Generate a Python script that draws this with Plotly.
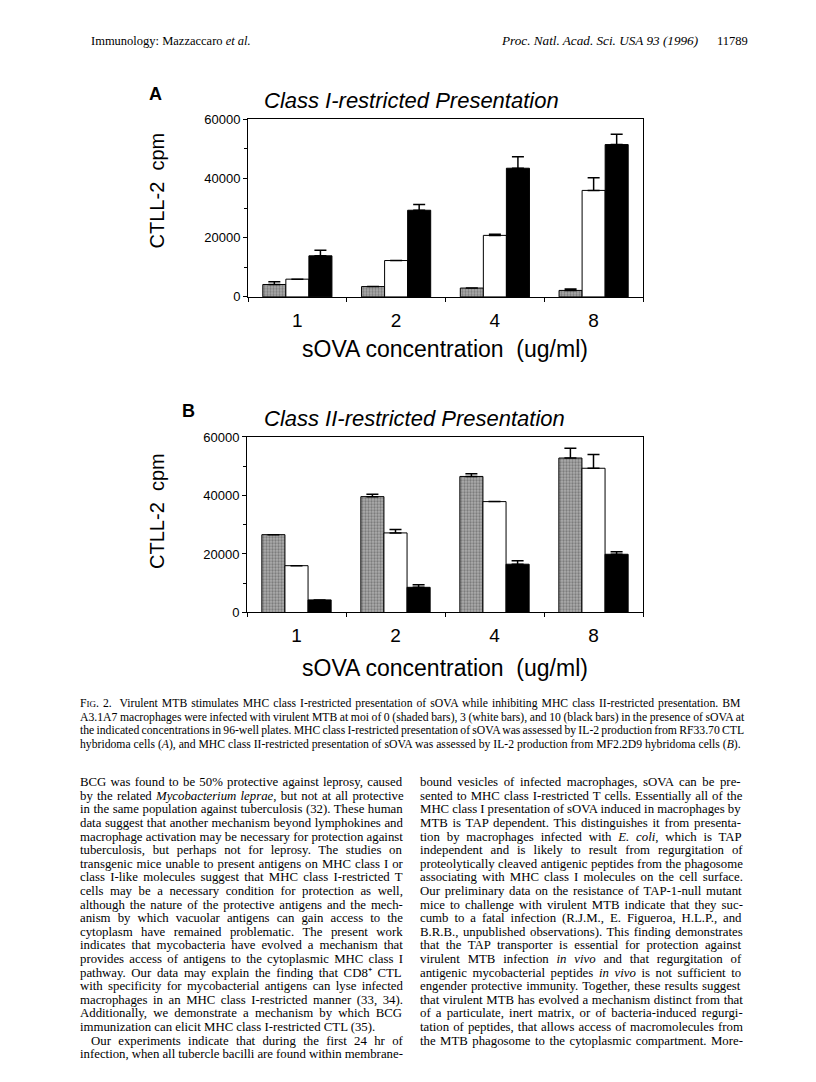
import re
import plotly.graph_objects as go

W, H = 816, 1082

# ---------------- data ----------------
concentrations = ["1", "2", "4", "8"]

a_moi0 = [4200, 3500, 3000, 2200]
a_moi0_err = [900, 0, 0, 500]
a_moi3 = [6000, 12300, 20800, 36000]
a_moi3_err = [0, 0, 400, 4300]
a_moi10 = [13900, 29300, 43500, 51500]
a_moi10_err = [1900, 1900, 3900, 3500]

b_moi0 = [26600, 39600, 46500, 52800]
b_moi0_err = [0, 800, 900, 3300]
b_moi3 = [16000, 27200, 37900, 49300]
b_moi3_err = [0, 1200, 0, 4700]
b_moi10 = [4300, 8600, 16500, 19900]
b_moi10_err = [0, 900, 1200, 900]

y_ticks = [0, 20000, 40000, 60000]
y_minor = [10000, 30000, 50000]

header_left = "Immunology: Mazzaccaro <i>et al.</i>"
header_mid = "<i>Proc. Natl. Acad. Sci. USA 93 (1996)</i>"
header_page = "11789"

caption_lines = [
    "F<span style='font-size:9px'>IG</span>. 2.  Virulent MTB stimulates MHC class I-restricted presentation of sOVA while inhibiting MHC class II-restricted presentation. BM",
    "A3.1A7 macrophages were infected with virulent MTB at moi of 0 (shaded bars), 3 (white bars), and 10 (black bars) in the presence of sOVA at",
    "the indicated concentrations in 96-well plates. MHC class I-restricted presentation of sOVA was assessed by IL-2 production from RF33.70 CTL",
    "hybridoma cells (<i>A</i>), and MHC class II-restricted presentation of sOVA was assessed by IL-2 production from MF2.2D9 hybridoma cells (<i>B</i>).",
]

left_col = [
    "BCG was found to be 50% protective against leprosy, caused",
    "by the related <i>Mycobacterium leprae</i>, but not at all protective",
    "in the same population against tuberculosis (32). These human",
    "data suggest that another mechanism beyond lymphokines and",
    "macrophage activation may be necessary for protection against",
    "tuberculosis, but perhaps not for leprosy. The studies on",
    "transgenic mice unable to present antigens on MHC class I or",
    "class I-like molecules suggest that MHC class I-restricted T",
    "cells may be a necessary condition for protection as well,",
    "although the nature of the protective antigens and the mech-",
    "anism by which vacuolar antigens can gain access to the",
    "cytoplasm have remained problematic. The present work",
    "indicates that mycobacteria have evolved a mechanism that",
    "provides access of antigens to the cytoplasmic MHC class I",
    "pathway. Our data may explain the finding that CD8\u207a CTL",
    "with specificity for mycobacterial antigens can lyse infected",
    "macrophages in an MHC class I-restricted manner (33, 34).",
    "Additionally, we demonstrate a mechanism by which BCG",
    "immunization can elicit MHC class I-restricted CTL (35).",
    "Our experiments indicate that during the first 24 hr of",
    "infection, when all tubercle bacilli are found within membrane-",
]
left_ragged = [18]      # paragraph-ending line (not justified)
left_indent = [19]      # indented first line of a paragraph

right_col = [
    "bound vesicles of infected macrophages, sOVA can be pre-",
    "sented to MHC class I-restricted T cells. Essentially all of the",
    "MHC class I presentation of sOVA induced in macrophages by",
    "MTB is TAP dependent. This distinguishes it from presenta-",
    "tion by macrophages infected with <i>E. coli</i>, which is TAP",
    "independent and is likely to result from regurgitation of",
    "proteolytically cleaved antigenic peptides from the phagosome",
    "associating with MHC class I molecules on the cell surface.",
    "Our preliminary data on the resistance of TAP-1-null mutant",
    "mice to challenge with virulent MTB indicate that they suc-",
    "cumb to a fatal infection (R.J.M., E. Figueroa, H.L.P., and",
    "B.R.B., unpublished observations). This finding demonstrates",
    "that the TAP transporter is essential for protection against",
    "virulent MTB infection <i>in vivo</i> and that regurgitation of",
    "antigenic mycobacterial peptides <i>in vivo</i> is not sufficient to",
    "engender protective immunity. Together, these results suggest",
    "that virulent MTB has evolved a mechanism distinct from that",
    "of a particulate, inert matrix, or of bacteria-induced regurgi-",
    "tation of peptides, that allows access of macromolecules from",
    "the MTB phagosome to the cytoplasmic compartment. More-",
]

# ---------------- helpers ----------------
SANS = "Liberation Sans, Arial, Helvetica, sans-serif"
SERIF = "Liberation Serif, Times New Roman, serif"

# Times New Roman advance widths (per 1000 em), used to justify text lines
TNR = {' ': 250, 'a': 444, 'b': 500, 'c': 444, 'd': 500, 'e': 444, 'f': 333, 'g': 500, 'h': 500,
       'i': 278, 'j': 278, 'k': 500, 'l': 278, 'm': 778, 'n': 500, 'o': 500, 'p': 500, 'q': 500,
       'r': 333, 's': 389, 't': 278, 'u': 500, 'v': 500, 'w': 722, 'x': 500, 'y': 500, 'z': 444,
       'A': 722, 'B': 667, 'C': 667, 'D': 722, 'E': 611, 'F': 556, 'G': 722, 'H': 722, 'I': 333,
       'J': 389, 'K': 722, 'L': 611, 'M': 889, 'N': 722, 'O': 722, 'P': 556, 'Q': 722, 'R': 667,
       'S': 556, 'T': 611, 'U': 722, 'V': 722, 'W': 944, 'X': 722, 'Y': 722, 'Z': 611,
       '.': 250, ',': 250, '-': 333, '(': 333, ')': 333, '%': 833, ':': 278, ';': 278, '+': 564,
       '/': 278, '\u207a': 350}


def natural_width(text, size):
    plain = re.sub(r"<[^>]+>", "", text)
    return sum(TNR.get(c, 500) for c in plain) * size / 1000.0, plain.count(" ")


def justify(text, size, target):
    w, n = natural_width(text, size)
    if n == 0:
        return text
    ws = (target - w) / n
    return "<span style='word-spacing:%.2fpx'>%s</span>" % (ws, text)


def px(x):
    return x / W


def py(y):
    return 1 - y / H


fig = go.Figure()

shaded = dict(color="#a0a0a0", line=dict(color="black", width=1),
              pattern=dict(shape=".", fgcolor="#4a4a4a", bgcolor="#acacac", size=3, solidity=0.45))
white = dict(color="white", line=dict(color="black", width=1))
black = dict(color="black", line=dict(color="black", width=1))


def err(arr):
    return dict(type="data", symmetric=False, array=arr, arrayminus=[0] * len(arr),
                color="black", thickness=1.5, width=6)


for (vals, e, mk, name), (xa, ya) in [
    ((a_moi0, a_moi0_err, shaded, "moi 0"), ("x", "y")),
    ((a_moi3, a_moi3_err, white, "moi 3"), ("x", "y")),
    ((a_moi10, a_moi10_err, black, "moi 10"), ("x", "y")),
    ((b_moi0, b_moi0_err, shaded, "moi 0"), ("x2", "y2")),
    ((b_moi3, b_moi3_err, white, "moi 3"), ("x2", "y2")),
    ((b_moi10, b_moi10_err, black, "moi 10"), ("x2", "y2")),
]:
    fig.add_trace(go.Bar(x=concentrations, y=vals, marker=mk, error_y=err(e), name=name,
                         xaxis=xa, yaxis=ya, showlegend=False))

# panel geometry (pixels)
A_left, A_right, A_top, A_bot = 248, 643, 114, 294
B_left, B_right, B_top, B_bot = 247, 643, 436, 614

xcommon = dict(type="category", range=[-0.5, 3.5], showline=True, linecolor="black", linewidth=1,
               mirror=True, ticks="outside", tickson="boundaries", ticklen=4, tickcolor="black",
               tickfont=dict(family=SANS, size=19, color="black"), showgrid=False,
               zeroline=False, ticklabelstandoff=6)
ycommon = dict(range=[0, 60000], showline=True, linecolor="black", linewidth=1, mirror=True,
               ticks="outside", ticklen=4, tickcolor="black", tickvals=y_ticks, tickformat="d",
               tickfont=dict(family=SANS, size=13, color="black"), showgrid=False, zeroline=False,
               minor=dict(tickvals=y_minor, ticks="outside", ticklen=3, tickcolor="black"))

fig.update_layout(
    width=W, height=H, autosize=False,
    margin=dict(l=0, r=0, t=0, b=0),
    paper_bgcolor="white", plot_bgcolor="white",
    barmode="group", bargap=0.3, bargroupgap=0,
    xaxis=dict(domain=[px(A_left), px(A_right)], anchor="y", **xcommon),
    yaxis=dict(domain=[py(A_bot), py(A_top)], anchor="x", **ycommon),
    xaxis2=dict(domain=[px(B_left), px(B_right)], anchor="y2", **xcommon),
    yaxis2=dict(domain=[py(B_bot), py(B_top)], anchor="x2", **ycommon),
)

ann = []


def add(text, x, y, size, family=SANS, xanchor="left", yanchor="middle", angle=0):
    ann.append(dict(text=text, x=px(x), y=py(y), xref="paper", yref="paper", showarrow=False,
                    xanchor=xanchor, yanchor=yanchor, textangle=angle,
                    font=dict(family=family, size=size, color="black")))


# panel labels, titles
add("<b>A</b>", 147, 88, 18)
add("<i>Class I-restricted Presentation</i>", 262, 95, 22)
add("CTLL-2  cpm", 157, 186, 20, xanchor="center", angle=-90)
add("sOVA concentration  (ug/ml)", 445, 347, 23, xanchor="center")

add("<b>B</b>", 180, 410, 18)
add("<i>Class II-restricted Presentation</i>", 262, 417, 22)
add("CTLL-2  cpm", 157, 511, 20, xanchor="center", angle=-90)
add("sOVA concentration  (ug/ml)", 445, 670, 23, xanchor="center")

# header
add(header_left, 89, 34, 12.5, SERIF)
add(header_mid, 499, 34, 13.2, SERIF)
add(header_page, 715, 34, 12.5, SERIF)

# caption
CAP_SIZE = 11.7
for i, line in enumerate(caption_lines):
    txt = line if i == len(caption_lines) - 1 else justify(line, CAP_SIZE, 667)
    add(txt, 78, 706 + i * 14, CAP_SIZE, SERIF)

# body text
BODY = 12.8
COL_W = 323
for i, line in enumerate(left_col):
    x0 = 78
    target = COL_W
    if i in left_indent:
        x0 += 11
        target -= 11
    txt = line if i in left_ragged else justify(line, BODY, target)
    add(txt, x0, 786 + i * 13.8, BODY, SERIF)
for i, line in enumerate(right_col):
    add(justify(line, BODY, COL_W), 418, 786 + i * 13.8, BODY, SERIF)

fig.update_layout(annotations=ann)
fig.write_html("out.html", config={"displayModeBar": False},
               post_script="document.body.style.margin='0';")
